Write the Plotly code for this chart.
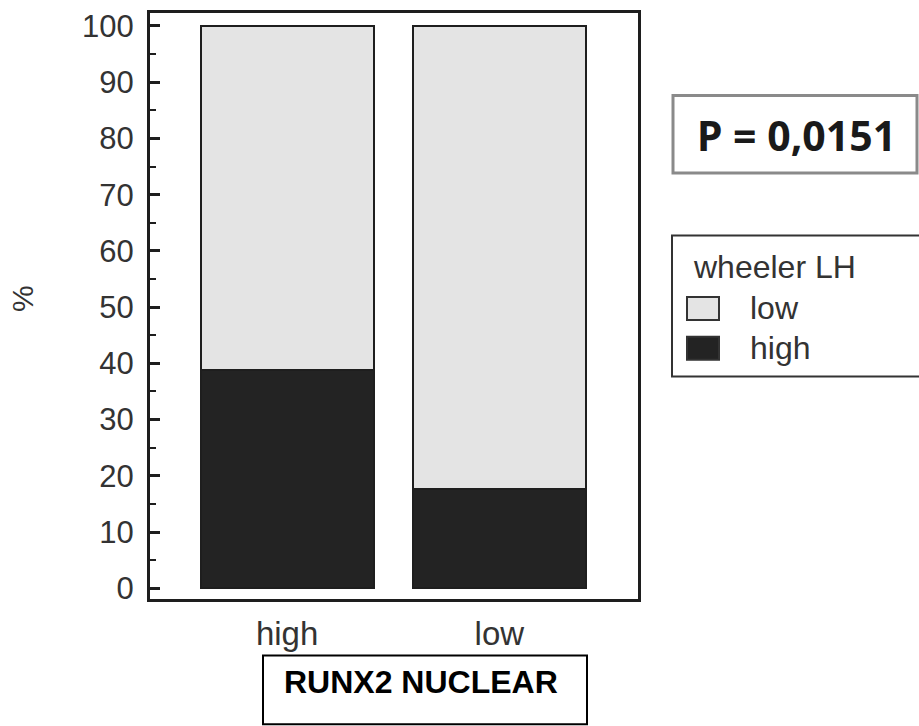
import plotly.graph_objects as go

# RUNX2 nuclear expression groups and the share of wheeler LH levels in each
categories = ["high", "low"]
series_names = ["low", "high"]          # legend order (top to bottom)
pct_wheeler_high = [38.8, 17.6]
pct_wheeler_low = [100 - v for v in pct_wheeler_high]
y_ticks = [0, 10, 20, 30, 40, 50, 60, 70, 80, 90, 100]
legend_title = "wheeler LH"
p_text = "P = 0,0151"
x_title = "RUNX2 NUCLEAR"
y_title = "%"

DARK = "#232323"
LIGHT = "#e4e4e4"
EDGE = "#1e1e1e"
TEXT = "#333333"

W, H = 919, 726
L, R, T, B = 150, 638, 9, 599   # plot-area edges in pixels


def px(x):
    return (x - L) / (R - L)


def py(y):
    return (B - y) / (B - T)


fig = go.Figure()
fig.add_trace(go.Bar(x=categories, y=pct_wheeler_high, name=series_names[1],
                     marker=dict(color=DARK, line=dict(color=EDGE, width=2)),
                     width=0.816, showlegend=False))
fig.add_trace(go.Bar(x=categories, y=pct_wheeler_low, name=series_names[0],
                     marker=dict(color=LIGHT, line=dict(color=EDGE, width=2)),
                     width=0.816, showlegend=False))

shapes = []
annotations = []

# P-value box
shapes.append(dict(type="rect", xref="paper", yref="paper",
                   x0=px(673), x1=px(917), y0=py(170), y1=py(92),
                   line=dict(color="#8a8a8a", width=3), fillcolor="white"))
annotations.append(dict(xref="paper", yref="paper", x=px(796), y=py(132),
                        text=p_text, showarrow=False, xanchor="center", yanchor="middle",
                        font=dict(family="Noto Sans", size=41, color="#1a1a1a",
                                  weight="bold")))

# Legend box
shapes.append(dict(type="rect", xref="paper", yref="paper",
                   x0=px(672), x1=px(930), y0=py(375), y1=py(233),
                   line=dict(color="#333333", width=2), fillcolor="white"))
annotations.append(dict(xref="paper", yref="paper", x=px(691), y=py(265),
                        text=legend_title, showarrow=False, xanchor="left", yanchor="middle",
                        font=dict(family="Liberation Sans, Arial", size=32, color=TEXT)))
legend_colors = {"low": LIGHT, "high": DARK}
for i, name in enumerate(series_names):
    top = 295 + i * 40
    shapes.append(dict(type="rect", xref="paper", yref="paper",
                       x0=px(687), x1=px(719), y0=py(top + 23), y1=py(top),
                       line=dict(color="#333333", width=2), fillcolor=legend_colors[name]))
    annotations.append(dict(xref="paper", yref="paper", x=px(748), y=py(top + 11),
                            text=name, showarrow=False, xanchor="left", yanchor="middle",
                            font=dict(family="Liberation Sans, Arial", size=32, color=TEXT)))

# Category title box
shapes.append(dict(type="rect", xref="paper", yref="paper",
                   x0=px(263), x1=px(587), y0=py(725), y1=py(656),
                   line=dict(color="black", width=2), fillcolor="white"))
annotations.append(dict(xref="paper", yref="paper", x=px(421), y=py(683),
                        text="<b>" + x_title + "</b>", showarrow=False,
                        xanchor="center", yanchor="middle",
                        font=dict(family="Liberation Sans, Arial", size=32, color="black")))

# y-axis title
annotations.append(dict(xref="paper", yref="paper", x=px(22), y=py(297),
                        text=y_title, showarrow=False, textangle=-90,
                        xanchor="center", yanchor="middle",
                        font=dict(family="Liberation Sans, Arial", size=30, color=TEXT)))

fig.update_layout(
    width=W, height=H,
    margin=dict(l=L, r=W - R, t=T, b=H - B, pad=0),
    barmode="stack",
    plot_bgcolor="white", paper_bgcolor="white",
    shapes=shapes, annotations=annotations,
    showlegend=False,
)
fig.update_xaxes(range=[-0.646, 1.653], showline=True, mirror=True,
                 linecolor="#1e1e1e", linewidth=3, ticks="", showgrid=False,
                 ticklabelstandoff=3,
                 tickfont=dict(family="Liberation Sans, Arial", size=33, color=TEXT))
fig.update_yaxes(range=[-1.9, 102.3], tickvals=y_ticks, showline=True, mirror=True,
                 linecolor="#1e1e1e", linewidth=3, showgrid=False, zeroline=False,
                 ticks="inside", ticklen=10, tickwidth=3, tickcolor="#1e1e1e",
                 ticklabelstandoff=7,
                 minor=dict(dtick=5, ticks="inside", ticklen=6, tickwidth=2,
                            tickcolor="#1e1e1e"),
                 tickfont=dict(family="Liberation Sans, Arial", size=31, color=TEXT))

fig.write_html("out.html")
